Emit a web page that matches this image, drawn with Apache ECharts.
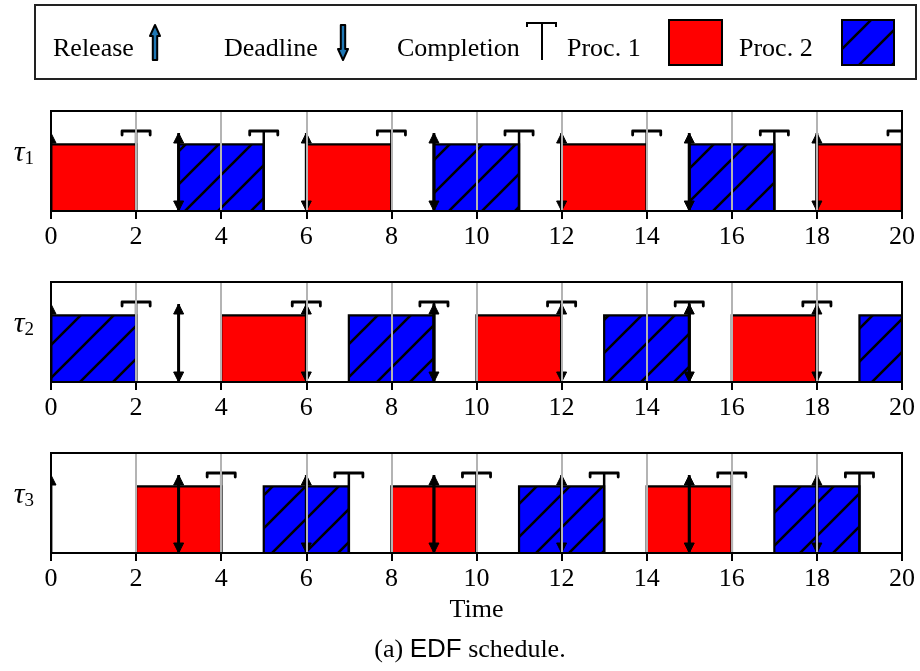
<!DOCTYPE html>
<html>
<head>
<meta charset="utf-8">
<script src="https://cdn.jsdelivr.net/npm/echarts@6/dist/echarts.min.js"></script>
<style>
  html, body { margin: 0; padding: 0; background: #fff; }
  #chart { width: 920px; height: 671px; }
</style>
</head>
<body>
<div id="chart"></div>
<script>
// ---- Schedule data (time units). A job is [start, end, processor]. ----
const taskSubscripts = ['1', '2', '3'];

const tau1Jobs = [[0, 2, 1], [3, 5, 2], [6, 8, 1], [9, 11, 2], [12, 14, 1], [15, 17, 2], [18, 20, 1]];
const tau1Releases = [0, 3, 6, 9, 12, 15, 18];
const tau1Deadlines = [3, 6, 9, 12, 15, 18];
const tau1Completions = [2, 5, 8, 11, 14, 17, 20];

const tau2Jobs = [[0, 2, 2], [4, 6, 1], [7, 9, 2], [10, 12, 1], [13, 15, 2], [16, 18, 1], [19, 20, 2]];
const tau2Releases = [0, 3, 6, 9, 12, 15, 18];
const tau2Deadlines = [3, 6, 9, 12, 15, 18];
const tau2Completions = [2, 6, 9, 12, 15, 18];

const tau3Jobs = [[2, 4, 1], [5, 7, 2], [8, 10, 1], [11, 13, 2], [14, 16, 1], [17, 19, 2]];
const tau3Releases = [0, 3, 6, 9, 12, 15, 18];
const tau3Deadlines = [3, 6, 9, 12, 15, 18];
const tau3Completions = [4, 7, 10, 13, 16, 19];

const timeMin = 0, timeMax = 20, timeStep = 2;

// ---- Drawing constants ----
const BAR_TOP = 1.0;      // job box height in row units
const ARROW_TOP = 1.17;   // release/deadline arrow height
const CAP_Y = 1.2;        // completion bracket height
const CAP_HALF = 0.33;    // completion bracket half width (time units)
const HEAD_W = 10, HEAD_LEN = 10, CAP_DROP = 4;
const SERIF = '"Liberation Serif", "Times New Roman", serif';
const SANS = '"Liberation Sans", Arial, sans-serif';

const rows = [
  { jobs: tau1Jobs, rel: tau1Releases, dl: tau1Deadlines, comp: tau1Completions },
  { jobs: tau2Jobs, rel: tau2Releases, dl: tau2Deadlines, comp: tau2Completions },
  { jobs: tau3Jobs, rel: tau3Releases, dl: tau3Deadlines, comp: tau3Completions }
];

// Diagonal hatch tile for processor 2
function makeHatch() {
  const s = 33;
  const c = document.createElement('canvas');
  c.width = s; c.height = s;
  const g = c.getContext('2d');
  g.fillStyle = '#0000ff';
  g.fillRect(0, 0, s, s);
  g.strokeStyle = '#000';
  g.lineWidth = 2.6;
  g.beginPath();
  [0, s, 2 * s].forEach(function (k) {
    g.moveTo(-2, k + 2);
    g.lineTo(k + 2, -2);
  });
  g.stroke();
  return c;
}
const hatchFill = { image: makeHatch(), repeat: 'repeat' };

function renderJob(params, api) {
  const a = api.coord([api.value(0), 0]);
  const b = api.coord([api.value(1), BAR_TOP]);
  return {
    type: 'rect',
    shape: { x: a[0], y: b[1], width: b[0] - a[0], height: a[1] - b[1] },
    style: { fill: api.value(2) === 1 ? '#ff0000' : hatchFill, stroke: '#000', lineWidth: 2.2 }
  };
}

function renderRelease(params, api) {
  const base = api.coord([api.value(0), 0]);
  const tip = api.coord([api.value(0), ARROW_TOP]);
  return {
    type: 'group',
    children: [
      { type: 'line', shape: { x1: base[0], y1: base[1], x2: tip[0], y2: tip[1] + HEAD_LEN - 1 },
        style: { stroke: '#000', lineWidth: 2.8 } },
      { type: 'polygon', shape: { points: [[tip[0], tip[1]], [tip[0] - HEAD_W / 2, tip[1] + HEAD_LEN], [tip[0] + HEAD_W / 2, tip[1] + HEAD_LEN]] },
        style: { fill: '#000', stroke: '#000', lineWidth: 1, lineJoin: 'round' } }
    ]
  };
}

function renderDeadline(params, api) {
  const tip = api.coord([api.value(0), 0]);
  const top = api.coord([api.value(0), ARROW_TOP]);
  return {
    type: 'group',
    children: [
      { type: 'line', shape: { x1: top[0], y1: top[1], x2: tip[0], y2: tip[1] - HEAD_LEN + 1 },
        style: { stroke: '#000', lineWidth: 2.8 } },
      { type: 'polygon', shape: { points: [[tip[0], tip[1]], [tip[0] - HEAD_W / 2, tip[1] - HEAD_LEN], [tip[0] + HEAD_W / 2, tip[1] - HEAD_LEN]] },
        style: { fill: '#000', stroke: '#000', lineWidth: 1, lineJoin: 'round' } }
    ]
  };
}

function renderCompletion(params, api) {
  const t = api.value(0);
  const base = api.coord([t, 0]);
  const cap = api.coord([t, CAP_Y]);
  const l = api.coord([t - CAP_HALF, CAP_Y]);
  const r = api.coord([t + CAP_HALF, CAP_Y]);
  return {
    type: 'group',
    children: [
      { type: 'line', shape: { x1: base[0], y1: base[1], x2: cap[0], y2: cap[1] },
        style: { stroke: '#000', lineWidth: 2.5 } },
      { type: 'polyline', shape: { points: [[l[0], l[1] + CAP_DROP], [l[0], l[1]], [r[0], r[1]], [r[0], r[1] + CAP_DROP]] },
        style: { stroke: '#000', lineWidth: 2.8, fill: null, lineJoin: 'round', lineCap: 'round' } }
    ]
  };
}

const gridTops = [111, 282, 453];
const grids = [], xAxes = [], yAxes = [], series = [];

rows.forEach(function (row, i) {
  grids.push({
    left: 51, right: 18, top: gridTops[i], height: 100,
    show: true, borderColor: '#000', borderWidth: 2, backgroundColor: 'transparent', z: 11
  });
  xAxes.push({
    gridIndex: i, type: 'value', min: timeMin, max: timeMax, interval: timeStep, z: 10,
    axisLine: { show: true, lineStyle: { color: '#000', width: 2 } },
    axisTick: { show: true, length: 8, lineStyle: { color: '#000', width: 2 } },
    axisLabel: { color: '#000', fontFamily: SERIF, fontSize: 26, margin: 13 },
    splitLine: { show: true, showMinLine: false, showMaxLine: false, lineStyle: { color: '#b4b4b4', width: 2 } },
    name: i === 2 ? 'Time' : '',
    nameLocation: 'middle', nameGap: 44,
    nameTextStyle: { color: '#000', fontFamily: SERIF, fontSize: 26 }
  });
  yAxes.push({
    gridIndex: i, type: 'value', min: 0, max: 1.5, interval: 0.05,
    axisLine: { show: false },
    axisTick: { show: false },
    splitLine: { show: false },
    axisLabel: {
      margin: 17,
      formatter: function (v) {
        return Math.abs(v - 0.85) < 1e-6 ? '{t|τ}{s|' + taskSubscripts[i] + '}' : '';
      },
      rich: {
        t: { fontFamily: SERIF, fontStyle: 'italic', fontSize: 30, color: '#000', lineHeight: 28, verticalAlign: 'bottom' },
        s: { fontFamily: SERIF, fontSize: 19, color: '#000', lineHeight: 12, verticalAlign: 'bottom' }
      }
    }
  });
  series.push(
    { type: 'custom', xAxisIndex: i, yAxisIndex: i, clip: true, z: 2,
      data: row.jobs, encode: { x: [0, 1] }, renderItem: renderJob },
    { type: 'custom', xAxisIndex: i, yAxisIndex: i, clip: true, z: 3,
      data: row.rel.map(function (v) { return [v]; }), encode: { x: 0 }, renderItem: renderRelease },
    { type: 'custom', xAxisIndex: i, yAxisIndex: i, clip: true, z: 3,
      data: row.dl.map(function (v) { return [v]; }), encode: { x: 0 }, renderItem: renderDeadline },
    { type: 'custom', xAxisIndex: i, yAxisIndex: i, clip: true, z: 3,
      data: row.comp.map(function (v) { return [v]; }), encode: { x: 0 }, renderItem: renderCompletion }
  );
});

// ---- Legend box drawn with graphic elements ----
function legendText(text, x) {
  return { type: 'text', x: x, y: 49,
    style: { text: text, fill: '#000', fontFamily: SERIF, fontSize: 26, align: 'left', verticalAlign: 'middle' } };
}
function upArrow(x, yTop, yBot) {
  return [[x, yTop], [x + 5, yTop + 11], [x + 2.2, yTop + 11], [x + 2.2, yBot], [x - 2.2, yBot], [x - 2.2, yTop + 11], [x - 5, yTop + 11]];
}
function downArrow(x, yTop, yBot) {
  return [[x, yBot], [x + 5, yBot - 11], [x + 2.2, yBot - 11], [x + 2.2, yTop], [x - 2.2, yTop], [x - 2.2, yBot - 11], [x - 5, yBot - 11]];
}
const legendGraphics = [
  { type: 'rect', shape: { x: 35, y: 5, width: 881, height: 74 }, style: { fill: '#fff', stroke: '#222', lineWidth: 2 } },
  legendText('Release', 53),
  { type: 'polygon', shape: { points: upArrow(155, 25, 60) }, style: { fill: '#1f77b4', stroke: '#000', lineWidth: 2, lineJoin: 'round' } },
  legendText('Deadline', 224),
  { type: 'polygon', shape: { points: downArrow(343, 25, 60) }, style: { fill: '#1f77b4', stroke: '#000', lineWidth: 2, lineJoin: 'round' } },
  legendText('Completion', 397),
  { type: 'polyline', shape: { points: [[527, 27], [527, 23], [556, 23], [556, 27]] }, style: { stroke: '#000', lineWidth: 2, fill: null } },
  { type: 'line', shape: { x1: 542, y1: 23, x2: 542, y2: 60 }, style: { stroke: '#000', lineWidth: 2 } },
  legendText('Proc. 1', 567),
  { type: 'rect', shape: { x: 669, y: 20, width: 53, height: 45 }, style: { fill: '#ff0000', stroke: '#000', lineWidth: 2 } },
  legendText('Proc. 2', 739),
  { type: 'rect', shape: { x: 842, y: 20, width: 52, height: 45 }, style: { fill: hatchFill, stroke: '#000', lineWidth: 2 } },
  { type: 'text', x: 470, y: 650,
    style: {
      text: '{a|(a) }{b|EDF}{a| schedule.}', align: 'center', verticalAlign: 'middle',
      rich: {
        a: { fontFamily: SERIF, fontSize: 26, fill: '#000' },
        b: { fontFamily: SANS, fontSize: 26, fill: '#000' }
      }
    } }
];

const chart = echarts.init(document.getElementById('chart'), null, { renderer: 'canvas' });
chart.setOption({
  animation: false,
  backgroundColor: '#fff',
  grid: grids,
  xAxis: xAxes,
  yAxis: yAxes,
  series: series,
  graphic: legendGraphics
});
</script>
</body>
</html>
